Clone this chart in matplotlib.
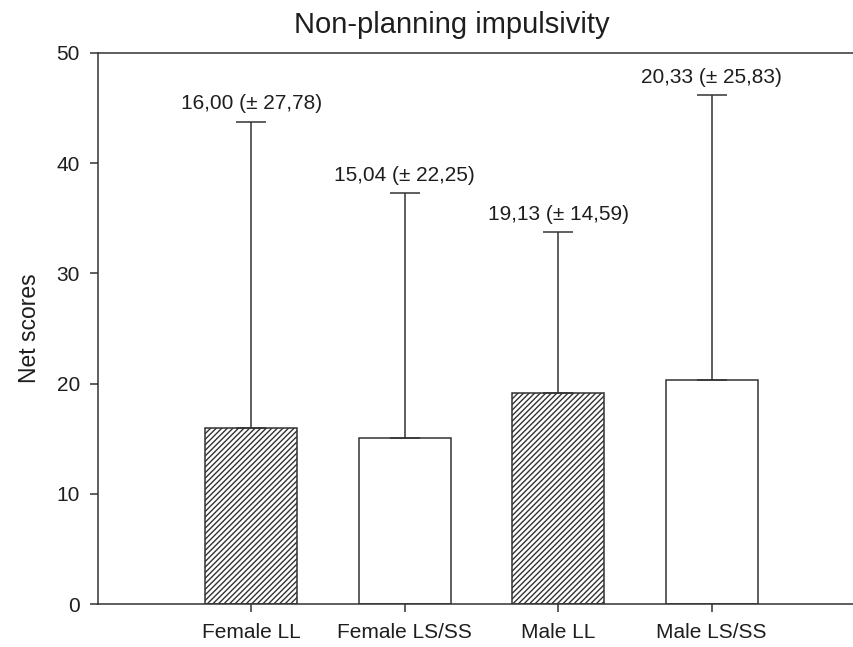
import matplotlib
matplotlib.use("Agg")
import matplotlib.pyplot as plt

plt.rcParams['font.family'] = ['Liberation Sans', 'DejaVu Sans']
plt.rcParams['hatch.linewidth'] = 1.0

categories = ["Female LL", "Female LS/SS", "Male LL", "Male LS/SS"]
means = [16.00, 15.04, 19.13, 20.33]
sds = [27.78, 22.25, 14.59, 25.83]
hatches = ["//////", "", "//////", ""]
title = "Non-planning impulsivity"
ylabel = "Net scores"

W, H = 854, 647
fig = plt.figure(figsize=(W / 100, H / 100), dpi=100)
left, right, bottom, top = 98, 865, 604, 53
ax = fig.add_axes([left / W, 1 - bottom / H, (right - left) / W, (bottom - top) / H])

dark = "#333333"
txt = "#1e1e1e"
x = list(range(1, len(categories) + 1))
bars = ax.bar(x, means, width=0.6, color="white", edgecolor=dark, linewidth=1.1,
              zorder=2)
for b, h in zip(bars, hatches):
    b.set_hatch(h)

ax.errorbar(x, means, yerr=[[0] * len(sds), sds], fmt="none", ecolor=dark,
            elinewidth=1.1, capsize=10.5, capthick=1.1, zorder=3)

for xi, m, s in zip(x, means, sds):
    label = f"{m:.2f} (± {s:.2f})".replace(".", ",")
    ax.annotate(label, xy=(xi, m + s), xytext=(0, 6.0), textcoords="offset points",
                ha="center", va="bottom", fontsize=15, color=txt)

ax.set_xlim(0, 5)
ax.set_ylim(0, 50)
ax.set_yticks([0, 10, 20, 30, 40, 50])
ax.set_xticks(x)
ax.set_xticklabels(categories)
ax.tick_params(axis="both", direction="out", length=6, width=1.1, colors=dark,
               labelsize=15, labelcolor=txt)
ax.tick_params(axis="y", pad=7)
ax.tick_params(axis="x", pad=8)
for side in ["left", "bottom", "top"]:
    ax.spines[side].set_linewidth(1.1)
    ax.spines[side].set_color(dark)
ax.spines["right"].set_visible(False)

ax.set_ylabel(ylabel, fontsize=16.5, color=txt, labelpad=11)
fig.text(452 / W, 1 - 25 / H, title, ha="center", va="center", fontsize=21,
         color=txt)

fig.savefig("out.png", dpi=100)
